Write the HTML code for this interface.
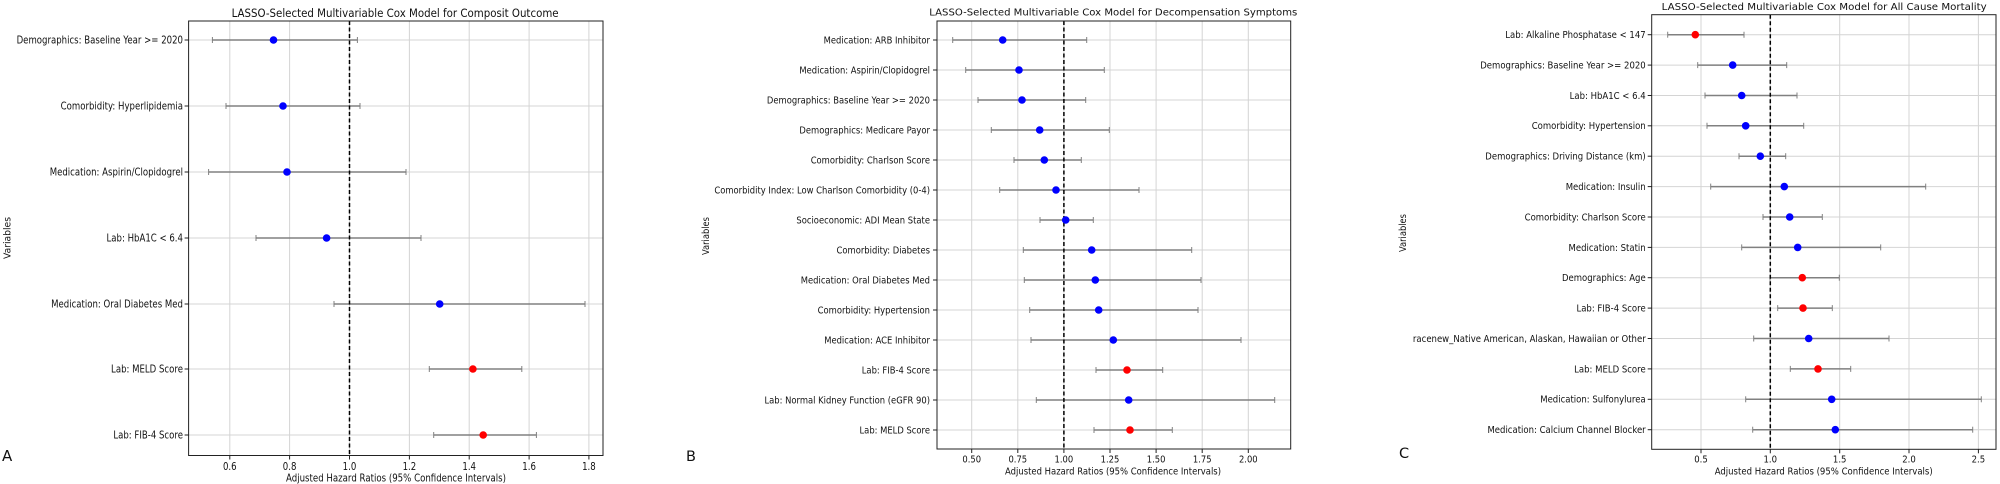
<!DOCTYPE html>
<html><head><meta charset="utf-8"><style>
html,body{margin:0;padding:0;background:#fff;}
svg{display:block;}
text{font-family:"DejaVu Sans","Liberation Sans",sans-serif;fill:#111;}
.g{stroke:#d4d4d4;stroke-width:1;}
.ci{stroke:#808080;stroke-width:1.5;}
.cap{stroke:#808080;stroke-width:1;}
.box{fill:none;stroke:#222;stroke-width:1;}
.dash{stroke:#000;stroke-width:1.5;stroke-dasharray:4,2.5;}
.tk{stroke:#222;stroke-width:1;}
.b{fill:#0000ff;}.r{fill:#ff0000;}
</style></head><body>
<svg id="s" width="2000" height="484" viewBox="0 0 2000 484" xmlns="http://www.w3.org/2000/svg">
<!-- ================= PANEL A ================= -->
<g>
<g class="g">
<line x1="229.8" y1="21" x2="229.8" y2="455.5"/><line x1="289.6" y1="21" x2="289.6" y2="455.5"/><line x1="349.5" y1="21" x2="349.5" y2="455.5"/><line x1="409.4" y1="21" x2="409.4" y2="455.5"/><line x1="469.2" y1="21" x2="469.2" y2="455.5"/><line x1="529.1" y1="21" x2="529.1" y2="455.5"/><line x1="588.9" y1="21" x2="588.9" y2="455.5"/>
<line x1="188.6" y1="40" x2="603" y2="40"/><line x1="188.6" y1="106" x2="603" y2="106"/><line x1="188.6" y1="172" x2="603" y2="172"/><line x1="188.6" y1="238" x2="603" y2="238"/><line x1="188.6" y1="304" x2="603" y2="304"/><line x1="188.6" y1="369" x2="603" y2="369"/><line x1="188.6" y1="435" x2="603" y2="435"/>
</g>
<g>
<line class="ci" x1="212.4" y1="40" x2="357.4" y2="40"/><line class="cap" x1="212.4" y1="37" x2="212.4" y2="43"/><line class="cap" x1="357.4" y1="37" x2="357.4" y2="43"/>
<line class="ci" x1="226" y1="106" x2="360" y2="106"/><line class="cap" x1="226" y1="103" x2="226" y2="109"/><line class="cap" x1="360" y1="103" x2="360" y2="109"/>
<line class="ci" x1="208.6" y1="172" x2="406" y2="172"/><line class="cap" x1="208.6" y1="169" x2="208.6" y2="175"/><line class="cap" x1="406" y1="169" x2="406" y2="175"/>
<line class="ci" x1="256" y1="238" x2="421" y2="238"/><line class="cap" x1="256" y1="235" x2="256" y2="241"/><line class="cap" x1="421" y1="235" x2="421" y2="241"/>
<line class="ci" x1="334" y1="304" x2="585" y2="304"/><line class="cap" x1="334" y1="301" x2="334" y2="307"/><line class="cap" x1="585" y1="301" x2="585" y2="307"/>
<line class="ci" x1="429.3" y1="369" x2="521.8" y2="369"/><line class="cap" x1="429.3" y1="366" x2="429.3" y2="372"/><line class="cap" x1="521.8" y1="366" x2="521.8" y2="372"/>
<line class="ci" x1="433.7" y1="435" x2="536.4" y2="435"/><line class="cap" x1="433.7" y1="432" x2="433.7" y2="438"/><line class="cap" x1="536.4" y1="432" x2="536.4" y2="438"/>
</g>
<line class="dash" x1="349.5" y1="21" x2="349.5" y2="455.5"/>
<circle class="b" cx="273.5" cy="40" r="3.8"/><circle class="b" cx="283" cy="106" r="3.8"/><circle class="b" cx="287" cy="172" r="3.8"/><circle class="b" cx="326.6" cy="238" r="3.8"/><circle class="b" cx="439.7" cy="304" r="3.8"/><circle class="r" cx="472.9" cy="369" r="3.8"/><circle class="r" cx="483.2" cy="435" r="3.8"/>
<rect class="box" x="188.6" y="21" width="414.4" height="434.5"/>
<g class="tk">
<line x1="184.6" y1="40" x2="188.6" y2="40"/><line x1="184.6" y1="106" x2="188.6" y2="106"/><line x1="184.6" y1="172" x2="188.6" y2="172"/><line x1="184.6" y1="238" x2="188.6" y2="238"/><line x1="184.6" y1="304" x2="188.6" y2="304"/><line x1="184.6" y1="369" x2="188.6" y2="369"/><line x1="184.6" y1="435" x2="188.6" y2="435"/>
<line x1="229.8" y1="455.5" x2="229.8" y2="459.5"/><line x1="289.6" y1="455.5" x2="289.6" y2="459.5"/><line x1="349.5" y1="455.5" x2="349.5" y2="459.5"/><line x1="409.4" y1="455.5" x2="409.4" y2="459.5"/><line x1="469.2" y1="455.5" x2="469.2" y2="459.5"/><line x1="529.1" y1="455.5" x2="529.1" y2="459.5"/><line x1="588.9" y1="455.5" x2="588.9" y2="459.5"/>
</g>
<g id="labA" font-size="10.5" text-anchor="end">
<text id="refA" x="183" y="43.7">Demographics: Baseline Year &gt;= 2020</text>
<text x="183" y="109.7">Comorbidity: Hyperlipidemia</text>
<text x="183" y="175.7">Medication: Aspirin/Clopidogrel</text>
<text x="183" y="241.7">Lab: HbA1C &lt; 6.4</text>
<text x="183" y="307.7">Medication: Oral Diabetes Med</text>
<text x="183" y="372.7">Lab: MELD Score</text>
<text x="183" y="438.7">Lab: FIB-4 Score</text>
</g>
<g class="tA" font-size="10.5" text-anchor="middle">
<text x="229.8" y="470">0.6</text><text x="289.6" y="470">0.8</text><text x="349.5" y="470">1.0</text><text x="409.4" y="470">1.2</text><text x="469.2" y="470">1.4</text><text x="529.1" y="470">1.6</text><text x="588.9" y="470">1.8</text>
</g>
<text x="286" y="481.5" font-size="10.5" textLength="220" lengthAdjust="spacingAndGlyphs">Adjusted Hazard Ratios (95% Confidence Intervals)</text>
<text x="231.6" y="17" font-size="11.5" textLength="327" lengthAdjust="spacingAndGlyphs">LASSO-Selected Multivariable Cox Model for Composit Outcome</text>
<text transform="translate(10.5,238) rotate(-90)" font-size="10" text-anchor="middle" textLength="42" lengthAdjust="spacingAndGlyphs">Variables</text>
<text x="2" y="461" font-size="15" font-family="Liberation Sans">A</text>
</g>

<!-- ================= PANEL B ================= -->
<g>
<g class="g">
<line x1="971.7" y1="21" x2="971.7" y2="449"/><line x1="1017.8" y1="21" x2="1017.8" y2="449"/><line x1="1063.9" y1="21" x2="1063.9" y2="449"/><line x1="1110" y1="21" x2="1110" y2="449"/><line x1="1156.1" y1="21" x2="1156.1" y2="449"/><line x1="1202.2" y1="21" x2="1202.2" y2="449"/><line x1="1248.3" y1="21" x2="1248.3" y2="449"/>
<line x1="937" y1="40" x2="1290.7" y2="40"/><line x1="937" y1="70" x2="1290.7" y2="70"/><line x1="937" y1="100" x2="1290.7" y2="100"/><line x1="937" y1="130" x2="1290.7" y2="130"/><line x1="937" y1="160" x2="1290.7" y2="160"/><line x1="937" y1="190" x2="1290.7" y2="190"/><line x1="937" y1="220" x2="1290.7" y2="220"/><line x1="937" y1="250" x2="1290.7" y2="250"/><line x1="937" y1="280" x2="1290.7" y2="280"/><line x1="937" y1="310" x2="1290.7" y2="310"/><line x1="937" y1="340" x2="1290.7" y2="340"/><line x1="937" y1="370" x2="1290.7" y2="370"/><line x1="937" y1="400" x2="1290.7" y2="400"/><line x1="937" y1="430" x2="1290.7" y2="430"/>
</g>
<g>
<line class="ci" x1="952.7" y1="40" x2="1086.7" y2="40"/><line class="cap" x1="952.7" y1="37" x2="952.7" y2="43"/><line class="cap" x1="1086.7" y1="37" x2="1086.7" y2="43"/>
<line class="ci" x1="965.7" y1="70" x2="1104.3" y2="70"/><line class="cap" x1="965.7" y1="67" x2="965.7" y2="73"/><line class="cap" x1="1104.3" y1="67" x2="1104.3" y2="73"/>
<line class="ci" x1="978" y1="100" x2="1085.7" y2="100"/><line class="cap" x1="978" y1="97" x2="978" y2="103"/><line class="cap" x1="1085.7" y1="97" x2="1085.7" y2="103"/>
<line class="ci" x1="991.3" y1="130" x2="1109.3" y2="130"/><line class="cap" x1="991.3" y1="127" x2="991.3" y2="133"/><line class="cap" x1="1109.3" y1="127" x2="1109.3" y2="133"/>
<line class="ci" x1="1014" y1="160" x2="1081.3" y2="160"/><line class="cap" x1="1014" y1="157" x2="1014" y2="163"/><line class="cap" x1="1081.3" y1="157" x2="1081.3" y2="163"/>
<line class="ci" x1="999.7" y1="190" x2="1139" y2="190"/><line class="cap" x1="999.7" y1="187" x2="999.7" y2="193"/><line class="cap" x1="1139" y1="187" x2="1139" y2="193"/>
<line class="ci" x1="1040" y1="220" x2="1093.3" y2="220"/><line class="cap" x1="1040" y1="217" x2="1040" y2="223"/><line class="cap" x1="1093.3" y1="217" x2="1093.3" y2="223"/>
<line class="ci" x1="1023.3" y1="250" x2="1191.7" y2="250"/><line class="cap" x1="1023.3" y1="247" x2="1023.3" y2="253"/><line class="cap" x1="1191.7" y1="247" x2="1191.7" y2="253"/>
<line class="ci" x1="1024.3" y1="280" x2="1201" y2="280"/><line class="cap" x1="1024.3" y1="277" x2="1024.3" y2="283"/><line class="cap" x1="1201" y1="277" x2="1201" y2="283"/>
<line class="ci" x1="1029.7" y1="310" x2="1198" y2="310"/><line class="cap" x1="1029.7" y1="307" x2="1029.7" y2="313"/><line class="cap" x1="1198" y1="307" x2="1198" y2="313"/>
<line class="ci" x1="1031" y1="340" x2="1241" y2="340"/><line class="cap" x1="1031" y1="337" x2="1031" y2="343"/><line class="cap" x1="1241" y1="337" x2="1241" y2="343"/>
<line class="ci" x1="1096" y1="370" x2="1162.7" y2="370"/><line class="cap" x1="1096" y1="367" x2="1096" y2="373"/><line class="cap" x1="1162.7" y1="367" x2="1162.7" y2="373"/>
<line class="ci" x1="1036.3" y1="400" x2="1274.7" y2="400"/><line class="cap" x1="1036.3" y1="397" x2="1036.3" y2="403"/><line class="cap" x1="1274.7" y1="397" x2="1274.7" y2="403"/>
<line class="ci" x1="1094" y1="430" x2="1172.3" y2="430"/><line class="cap" x1="1094" y1="427" x2="1094" y2="433"/><line class="cap" x1="1172.3" y1="427" x2="1172.3" y2="433"/>
</g>
<line class="dash" x1="1063.9" y1="21" x2="1063.9" y2="449"/>
<circle class="b" cx="1002.7" cy="40" r="3.8"/><circle class="b" cx="1019" cy="70" r="3.8"/><circle class="b" cx="1022" cy="100" r="3.8"/><circle class="b" cx="1039.7" cy="130" r="3.8"/><circle class="b" cx="1044.3" cy="160" r="3.8"/><circle class="b" cx="1056" cy="190" r="3.8"/><circle class="b" cx="1065.7" cy="220" r="3.8"/><circle class="b" cx="1091.7" cy="250" r="3.8"/><circle class="b" cx="1095.3" cy="280" r="3.8"/><circle class="b" cx="1098.7" cy="310" r="3.8"/><circle class="b" cx="1113.3" cy="340" r="3.8"/><circle class="r" cx="1127" cy="370" r="3.8"/><circle class="b" cx="1128.7" cy="400" r="3.8"/><circle class="r" cx="1130" cy="430" r="3.8"/>
<rect class="box" x="937" y="21" width="353.7" height="428"/>
<g class="tk">
<line x1="933" y1="40" x2="937" y2="40"/><line x1="933" y1="70" x2="937" y2="70"/><line x1="933" y1="100" x2="937" y2="100"/><line x1="933" y1="130" x2="937" y2="130"/><line x1="933" y1="160" x2="937" y2="160"/><line x1="933" y1="190" x2="937" y2="190"/><line x1="933" y1="220" x2="937" y2="220"/><line x1="933" y1="250" x2="937" y2="250"/><line x1="933" y1="280" x2="937" y2="280"/><line x1="933" y1="310" x2="937" y2="310"/><line x1="933" y1="340" x2="937" y2="340"/><line x1="933" y1="370" x2="937" y2="370"/><line x1="933" y1="400" x2="937" y2="400"/><line x1="933" y1="430" x2="937" y2="430"/>
<line x1="971.7" y1="449" x2="971.7" y2="453"/><line x1="1017.8" y1="449" x2="1017.8" y2="453"/><line x1="1063.9" y1="449" x2="1063.9" y2="453"/><line x1="1110" y1="449" x2="1110" y2="453"/><line x1="1156.1" y1="449" x2="1156.1" y2="453"/><line x1="1202.2" y1="449" x2="1202.2" y2="453"/><line x1="1248.3" y1="449" x2="1248.3" y2="453"/>
</g>
<g id="labB" font-size="9.5" text-anchor="end">
<text x="930" y="43.4">Medication: ARB Inhibitor</text>
<text x="930" y="73.4">Medication: Aspirin/Clopidogrel</text>
<text x="930" y="103.4">Demographics: Baseline Year &gt;= 2020</text>
<text x="930" y="133.4">Demographics: Medicare Payor</text>
<text x="930" y="163.4">Comorbidity: Charlson Score</text>
<text id="refB" x="930" y="193.4">Comorbidity Index: Low Charlson Comorbidity (0-4)</text>
<text x="930" y="223.4">Socioeconomic: ADI Mean State</text>
<text x="930" y="253.4">Comorbidity: Diabetes</text>
<text x="930" y="283.4">Medication: Oral Diabetes Med</text>
<text x="930" y="313.4">Comorbidity: Hypertension</text>
<text x="930" y="343.4">Medication: ACE Inhibitor</text>
<text x="930" y="373.4">Lab: FIB-4 Score</text>
<text x="930" y="403.4">Lab: Normal Kidney Function (eGFR 90)</text>
<text x="930" y="433.4">Lab: MELD Score</text>
</g>
<g class="tB" font-size="9.5" text-anchor="middle">
<text x="971.7" y="462.5">0.50</text><text x="1017.8" y="462.5">0.75</text><text x="1063.9" y="462.5">1.00</text><text x="1110" y="462.5">1.25</text><text x="1156.1" y="462.5">1.50</text><text x="1202.2" y="462.5">1.75</text><text x="1248.3" y="462.5">2.00</text>
</g>
<text x="1005" y="474.5" font-size="9.5" textLength="216" lengthAdjust="spacingAndGlyphs">Adjusted Hazard Ratios (95% Confidence Intervals)</text>
<text x="929.3" y="15.5" font-size="10" textLength="368" lengthAdjust="spacingAndGlyphs">LASSO-Selected Multivariable Cox Model for Decompensation Symptoms</text>
<text transform="translate(709,236) rotate(-90)" font-size="9.5" text-anchor="middle" textLength="38" lengthAdjust="spacingAndGlyphs">Variables</text>
<text x="686" y="461" font-size="14.5" font-family="Liberation Sans">B</text>
</g>

<!-- ================= PANEL C ================= -->
<g>
<g class="g">
<line x1="1701" y1="14.7" x2="1701" y2="449.3"/><line x1="1770.3" y1="14.7" x2="1770.3" y2="449.3"/><line x1="1839.7" y1="14.7" x2="1839.7" y2="449.3"/><line x1="1909" y1="14.7" x2="1909" y2="449.3"/><line x1="1978.4" y1="14.7" x2="1978.4" y2="449.3"/>
<line x1="1651.7" y1="34.7" x2="1996" y2="34.7"/><line x1="1651.7" y1="65.1" x2="1996" y2="65.1"/><line x1="1651.7" y1="95.5" x2="1996" y2="95.5"/><line x1="1651.7" y1="125.8" x2="1996" y2="125.8"/><line x1="1651.7" y1="156.2" x2="1996" y2="156.2"/><line x1="1651.7" y1="186.6" x2="1996" y2="186.6"/><line x1="1651.7" y1="217" x2="1996" y2="217"/><line x1="1651.7" y1="247.4" x2="1996" y2="247.4"/><line x1="1651.7" y1="277.7" x2="1996" y2="277.7"/><line x1="1651.7" y1="308.1" x2="1996" y2="308.1"/><line x1="1651.7" y1="338.5" x2="1996" y2="338.5"/><line x1="1651.7" y1="368.9" x2="1996" y2="368.9"/><line x1="1651.7" y1="399.3" x2="1996" y2="399.3"/><line x1="1651.7" y1="429.7" x2="1996" y2="429.7"/>
</g>
<g>
<line class="ci" x1="1667.7" y1="34.7" x2="1744" y2="34.7"/><line class="cap" x1="1667.7" y1="31.7" x2="1667.7" y2="37.7"/><line class="cap" x1="1744" y1="31.7" x2="1744" y2="37.7"/>
<line class="ci" x1="1697.7" y1="65.1" x2="1786.7" y2="65.1"/><line class="cap" x1="1697.7" y1="62.1" x2="1697.7" y2="68.1"/><line class="cap" x1="1786.7" y1="62.1" x2="1786.7" y2="68.1"/>
<line class="ci" x1="1705" y1="95.5" x2="1797" y2="95.5"/><line class="cap" x1="1705" y1="92.5" x2="1705" y2="98.5"/><line class="cap" x1="1797" y1="92.5" x2="1797" y2="98.5"/>
<line class="ci" x1="1707" y1="125.8" x2="1803.7" y2="125.8"/><line class="cap" x1="1707" y1="122.8" x2="1707" y2="128.8"/><line class="cap" x1="1803.7" y1="122.8" x2="1803.7" y2="128.8"/>
<line class="ci" x1="1739" y1="156.2" x2="1785.7" y2="156.2"/><line class="cap" x1="1739" y1="153.2" x2="1739" y2="159.2"/><line class="cap" x1="1785.7" y1="153.2" x2="1785.7" y2="159.2"/>
<line class="ci" x1="1710.7" y1="186.6" x2="1925.7" y2="186.6"/><line class="cap" x1="1710.7" y1="183.6" x2="1710.7" y2="189.6"/><line class="cap" x1="1925.7" y1="183.6" x2="1925.7" y2="189.6"/>
<line class="ci" x1="1763" y1="217" x2="1822.3" y2="217"/><line class="cap" x1="1763" y1="214" x2="1763" y2="220"/><line class="cap" x1="1822.3" y1="214" x2="1822.3" y2="220"/>
<line class="ci" x1="1741.7" y1="247.4" x2="1880.7" y2="247.4"/><line class="cap" x1="1741.7" y1="244.4" x2="1741.7" y2="250.4"/><line class="cap" x1="1880.7" y1="244.4" x2="1880.7" y2="250.4"/>
<line class="ci" x1="1770" y1="277.7" x2="1839.3" y2="277.7"/><line class="cap" x1="1770" y1="274.7" x2="1770" y2="280.7"/><line class="cap" x1="1839.3" y1="274.7" x2="1839.3" y2="280.7"/>
<line class="ci" x1="1777.7" y1="308.1" x2="1832.3" y2="308.1"/><line class="cap" x1="1777.7" y1="305.1" x2="1777.7" y2="311.1"/><line class="cap" x1="1832.3" y1="305.1" x2="1832.3" y2="311.1"/>
<line class="ci" x1="1753.7" y1="338.5" x2="1889" y2="338.5"/><line class="cap" x1="1753.7" y1="335.5" x2="1753.7" y2="341.5"/><line class="cap" x1="1889" y1="335.5" x2="1889" y2="341.5"/>
<line class="ci" x1="1790.3" y1="368.9" x2="1850.7" y2="368.9"/><line class="cap" x1="1790.3" y1="365.9" x2="1790.3" y2="371.9"/><line class="cap" x1="1850.7" y1="365.9" x2="1850.7" y2="371.9"/>
<line class="ci" x1="1745.7" y1="399.3" x2="1981.3" y2="399.3"/><line class="cap" x1="1745.7" y1="396.3" x2="1745.7" y2="402.3"/><line class="cap" x1="1981.3" y1="396.3" x2="1981.3" y2="402.3"/>
<line class="ci" x1="1752.7" y1="429.7" x2="1972.7" y2="429.7"/><line class="cap" x1="1752.7" y1="426.7" x2="1752.7" y2="432.7"/><line class="cap" x1="1972.7" y1="426.7" x2="1972.7" y2="432.7"/>
</g>
<line class="dash" x1="1770.3" y1="14.7" x2="1770.3" y2="449.3"/>
<circle class="r" cx="1695.3" cy="34.7" r="3.8"/><circle class="b" cx="1732.7" cy="65.1" r="3.8"/><circle class="b" cx="1741.7" cy="95.5" r="3.8"/><circle class="b" cx="1745.7" cy="125.8" r="3.8"/><circle class="b" cx="1760.3" cy="156.2" r="3.8"/><circle class="b" cx="1784.3" cy="186.6" r="3.8"/><circle class="b" cx="1789.7" cy="217" r="3.8"/><circle class="b" cx="1797.7" cy="247.4" r="3.8"/><circle class="r" cx="1802.3" cy="277.7" r="3.8"/><circle class="r" cx="1803" cy="308.1" r="3.8"/><circle class="b" cx="1808.7" cy="338.5" r="3.8"/><circle class="r" cx="1818" cy="368.9" r="3.8"/><circle class="b" cx="1831.7" cy="399.3" r="3.8"/><circle class="b" cx="1835.3" cy="429.7" r="3.8"/>
<rect class="box" x="1651.7" y="14.7" width="344.3" height="434.6"/>
<g class="tk">
<line x1="1647.7" y1="34.7" x2="1651.7" y2="34.7"/><line x1="1647.7" y1="65.1" x2="1651.7" y2="65.1"/><line x1="1647.7" y1="95.5" x2="1651.7" y2="95.5"/><line x1="1647.7" y1="125.8" x2="1651.7" y2="125.8"/><line x1="1647.7" y1="156.2" x2="1651.7" y2="156.2"/><line x1="1647.7" y1="186.6" x2="1651.7" y2="186.6"/><line x1="1647.7" y1="217" x2="1651.7" y2="217"/><line x1="1647.7" y1="247.4" x2="1651.7" y2="247.4"/><line x1="1647.7" y1="277.7" x2="1651.7" y2="277.7"/><line x1="1647.7" y1="308.1" x2="1651.7" y2="308.1"/><line x1="1647.7" y1="338.5" x2="1651.7" y2="338.5"/><line x1="1647.7" y1="368.9" x2="1651.7" y2="368.9"/><line x1="1647.7" y1="399.3" x2="1651.7" y2="399.3"/><line x1="1647.7" y1="429.7" x2="1651.7" y2="429.7"/>
<line x1="1701" y1="449.3" x2="1701" y2="453.3"/><line x1="1770.3" y1="449.3" x2="1770.3" y2="453.3"/><line x1="1839.7" y1="449.3" x2="1839.7" y2="453.3"/><line x1="1909" y1="449.3" x2="1909" y2="453.3"/><line x1="1978.4" y1="449.3" x2="1978.4" y2="453.3"/>
</g>
<g id="labC" font-size="9.5" text-anchor="end">
<text x="1645.7" y="38.1">Lab: Alkaline Phosphatase &lt; 147</text>
<text x="1645.7" y="68.5">Demographics: Baseline Year &gt;= 2020</text>
<text x="1645.7" y="98.9">Lab: HbA1C &lt; 6.4</text>
<text x="1645.7" y="129.2">Comorbidity: Hypertension</text>
<text x="1645.7" y="159.6">Demographics: Driving Distance (km)</text>
<text x="1645.7" y="190">Medication: Insulin</text>
<text x="1645.7" y="220.4">Comorbidity: Charlson Score</text>
<text x="1645.7" y="250.8">Medication: Statin</text>
<text x="1645.7" y="281.1">Demographics: Age</text>
<text x="1645.7" y="311.5">Lab: FIB-4 Score</text>
<text id="refC" x="1645.7" y="341.9">racenew_Native American, Alaskan, Hawaiian or Other</text>
<text x="1645.7" y="372.3">Lab: MELD Score</text>
<text x="1645.7" y="402.7">Medication: Sulfonylurea</text>
<text x="1645.7" y="433.1">Medication: Calcium Channel Blocker</text>
</g>
<g class="tC" font-size="9.5" text-anchor="middle">
<text x="1701" y="462.5">0.5</text><text x="1770.3" y="462.5">1.0</text><text x="1839.7" y="462.5">1.5</text><text x="1909" y="462.5">2.0</text><text x="1978.4" y="462.5">2.5</text>
</g>
<text x="1714.7" y="474.5" font-size="9.5" textLength="218" lengthAdjust="spacingAndGlyphs">Adjusted Hazard Ratios (95% Confidence Intervals)</text>
<text x="1661.7" y="10" font-size="10" textLength="325" lengthAdjust="spacingAndGlyphs">LASSO-Selected Multivariable Cox Model for All Cause Mortality</text>
<text transform="translate(1406,233) rotate(-90)" font-size="9.5" text-anchor="middle" textLength="38" lengthAdjust="spacingAndGlyphs">Variables</text>
<text x="1399" y="458" font-size="14.5" font-family="Liberation Sans">C</text>
</g>
</svg>
<script>
(function(){
 function fit(gid, refId, target, tickCls){
  var g=document.getElementById(gid), ref=document.getElementById(refId);
  if(!g||!ref||!ref.getComputedTextLength) return;
  var w=ref.getComputedTextLength(); if(!w) return;
  var r=target/w;
  var ts=g.getElementsByTagName('text');
  for(var i=0;i<ts.length;i++){var x=+ts[i].getAttribute('x');
   ts[i].setAttribute('transform','translate('+x+',0) scale('+r+',1) translate('+(-x)+',0)');}
  var tg=document.querySelectorAll('.'+tickCls+' text');
  for(var j=0;j<tg.length;j++){var x2=+tg[j].getAttribute('x');
   tg[j].setAttribute('transform','translate('+x2+',0) scale('+r+',1) translate('+(-x2)+',0)');}
 }
 fit('labA','refA',166.5,'tA');
 fit('labB','refB',216,'tB');
 fit('labC','refC',233,'tC');
})();
</script>
</body></html>
